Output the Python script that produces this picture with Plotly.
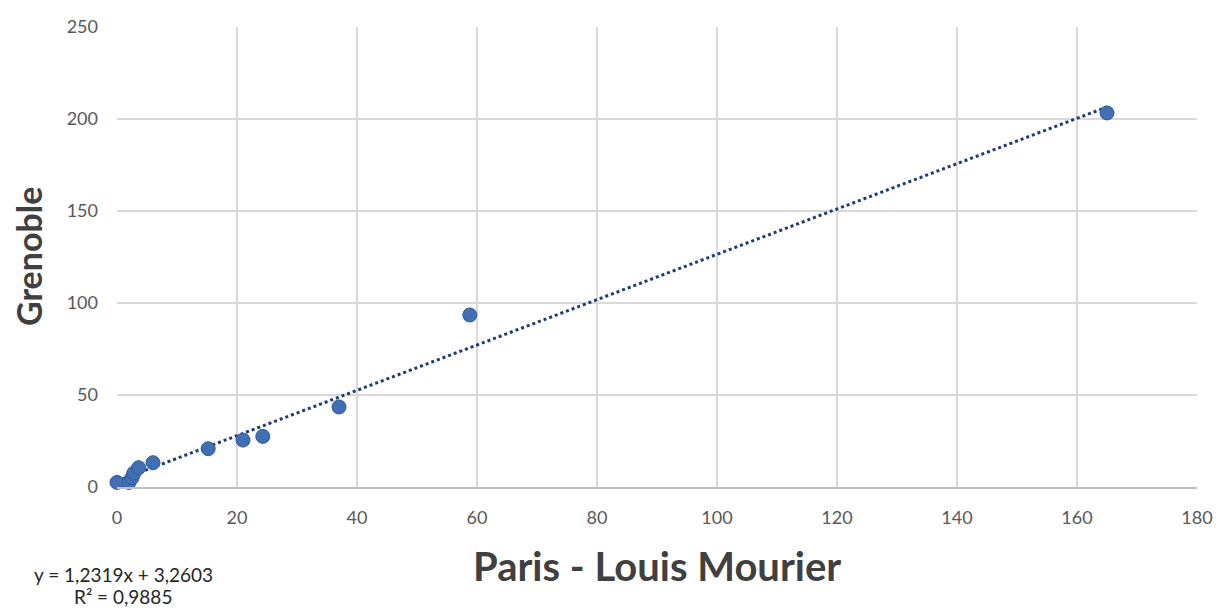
import plotly.graph_objects as go

x_paris = [0, 2, 2.5, 2.8, 3.6, 6, 15.2, 21, 24.3, 37, 58.8, 165]
y_grenoble = [2.5, 2.5, 5, 7.5, 10.5, 13.2, 20.8, 25.5, 27.5, 43.5, 93.5, 203.3]
slope = 1.2319
intercept = 3.2603
r2 = "0,9885"
x_ticks = list(range(0, 181, 20))
y_ticks = list(range(0, 251, 50))

xmin, xmax = min(x_paris), max(x_paris)
trend_x = [xmin, xmax]
trend_y = [slope * v + intercept for v in trend_x]

fig = go.Figure()
fig.add_trace(go.Scatter(x=trend_x, y=trend_y, mode="lines",
                         line=dict(color="#1f3b73", width=3, dash="dot"),
                         showlegend=False, hoverinfo="skip"))
fig.add_trace(go.Scatter(x=x_paris, y=y_grenoble, mode="markers",
                         cliponaxis=False,
                         marker=dict(size=14, color="#4070b3",
                                     line=dict(color="#2f5a96", width=1)),
                         showlegend=False))

font_family = "Lato, Open Sans, sans-serif"
W, H = 1216, 610
l, r, t, b = 117, 19, 27, 123
pw, ph = W - l - r, H - t - b

def px(xp):
    return (xp - l) / pw

def py(yp):
    return (H - b - yp) / ph

eq_text = f"y = {str(slope).replace('.', ',')}x + {str(intercept).replace('.', ',')}"

fig.update_layout(
    width=W, height=H,
    margin=dict(l=l, r=r, t=t, b=b, autoexpand=False),
    paper_bgcolor="white", plot_bgcolor="white",
    font=dict(family=font_family, color="#595959", size=18),
    xaxis=dict(range=[0, 180], tickvals=x_ticks, showgrid=True,
               gridcolor="#d9d9d9", gridwidth=2, zeroline=False,
               showline=True, linecolor="#bfbfbf", linewidth=2,
               tickfont=dict(size=18, color="#595959"), ticks="",
               ticklabelstandoff=13, automargin=False),
    yaxis=dict(range=[0, 250], tickvals=y_ticks, showgrid=True,
               gridcolor="#d9d9d9", gridwidth=2, zeroline=False,
               showline=False, tickfont=dict(size=18, color="#595959"),
               ticks="", ticklabelstandoff=18, automargin=False),
    annotations=[
        dict(text="<b>Paris - Louis Mourier</b>", x=px(657), y=py(566),
             xref="paper", yref="paper", xanchor="center", yanchor="middle",
             showarrow=False,
             font=dict(size=40, color="#404040", family=font_family)),
        dict(text="<b>Grenoble</b>", textangle=-90, x=px(28), y=py(257),
             xref="paper", yref="paper", xanchor="center", yanchor="middle",
             showarrow=False,
             font=dict(size=34, color="#404040", family=font_family)),
        dict(text=eq_text, x=px(123), y=py(574),
             xref="paper", yref="paper", xanchor="center", yanchor="middle",
             showarrow=False,
             font=dict(size=19, color="#262626", family=font_family)),
        dict(text=f"R² = {r2}", x=px(123), y=py(596),
             xref="paper", yref="paper", xanchor="center", yanchor="middle",
             showarrow=False,
             font=dict(size=19, color="#262626", family=font_family)),
    ],
)

fig.write_html(
    "out.html",
    config={"displayModeBar": False},
    post_script=("document.body.style.margin='0';"
                 "document.body.style.overflow='hidden';"
                 "document.documentElement.style.overflow='hidden';"),
)
